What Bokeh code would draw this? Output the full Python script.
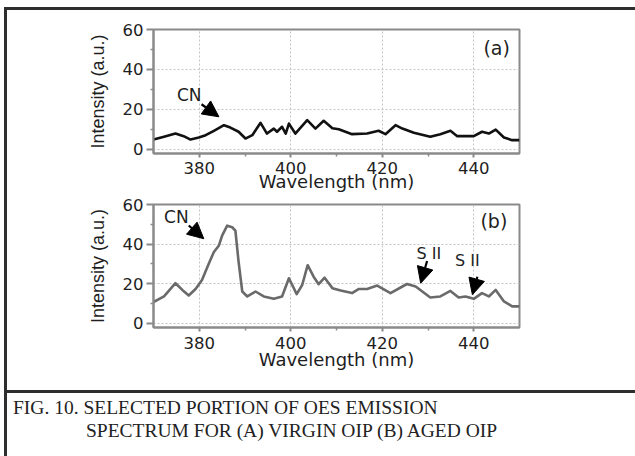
from bokeh.plotting import figure
from bokeh.layouts import column, row
from bokeh.models import Div, Arrow, NormalHead, Range1d, FixedTicker
from bokeh.core.properties import value
from bokeh.embed import file_html
from bokeh.resources import INLINE

# ---------------- data ----------------
wavelength_a = [370.0, 372.3, 374.8, 376.6, 378.1, 379.9, 381.4, 383.2, 385.4, 386.8,
                388.6, 390.1, 391.6, 393.4, 394.8, 396.3, 397.0, 398.1, 398.9, 399.6,
                401.0, 403.6, 405.4, 407.2, 409.1, 410.5, 413.4, 416.7, 419.2, 420.7,
                422.9, 424.4, 426.9, 430.5, 432.7, 434.9, 436.4, 440.0, 441.8, 443.3,
                444.8, 446.6, 448.4, 450.0]
intensity_a = [4.8, 6.2, 7.8, 6.5, 4.8, 5.8, 7.0, 9.2, 12.0, 10.8,
               8.7, 5.3, 7.0, 13.2, 7.8, 10.3, 8.7, 11.2, 7.8, 12.8,
               7.8, 14.5, 10.3, 14.2, 10.5, 10.0, 7.5, 7.8, 9.2, 7.5,
               12.0, 10.3, 8.2, 6.2, 7.5, 9.2, 6.5, 6.5, 8.7, 7.8,
               9.8, 5.8, 4.5, 4.5]

wavelength_b = [370.0, 372.3, 374.8, 376.3, 377.7, 379.2, 380.6, 382.1, 383.2, 384.3,
                385.0, 386.1, 387.2, 387.9, 388.6, 389.4, 390.5, 392.3, 394.1, 396.3,
                398.1, 399.6, 401.3, 402.5, 403.7, 405.0, 406.1, 407.4, 409.1, 410.9,
                413.4, 414.9, 416.7, 418.9, 421.8, 425.4, 427.3, 430.5, 432.7, 434.9,
                436.7, 438.2, 440.0, 441.8, 443.3, 444.8, 446.6, 448.4, 450.0]
intensity_b = [10.7, 13.5, 20.2, 16.8, 14.0, 17.3, 21.8, 30.2, 36.0, 39.3,
               44.3, 49.3, 48.5, 46.8, 31.0, 16.0, 13.5, 16.0, 13.5, 12.3,
               13.5, 22.7, 14.7, 19.3, 29.3, 23.5, 19.7, 23.0, 17.7, 16.5,
               15.2, 17.3, 17.3, 19.0, 15.2, 19.8, 18.5, 13.0, 13.5, 16.3,
               13.0, 13.5, 12.3, 15.2, 13.5, 16.8, 11.0, 8.5, 8.5]

x_ticks = [380, 400, 420, 440]
x_minor_ticks = [390, 410, 430]
y_ticks = [0, 20, 40, 60]
y_minor_ticks = [10, 30, 50]

x_title = "Wavelength (nm)"
y_title = "Intensity (a.u.)"
caption_line1 = "FIG. 10. SELECTED PORTION OF OES EMISSION"
caption_line2 = "SPECTRUM FOR (A) VIRGIN OIP (B) AGED OIP"

# panel tags and annotation texts (data coordinates)
tag_a = {"text": ["(a)"], "x": [445.0], "y": [50.5]}
tag_b = {"text": ["(b)"], "x": [444.4], "y": [51.7]}
notes_a = {"text": ["CN"], "x": [377.8], "y": [27.0]}
notes_b = {"text": ["CN", "S II", "S II"], "x": [375.0, 430.2, 438.6], "y": [53.5, 35.2, 31.9]}
arrows_a = [(380.5, 22.5, 384.3, 16.2)]
arrows_b = [(377.7, 49.4, 381.0, 42.7), (429.8, 31.4, 428.4, 20.2), (440.8, 23.5, 439.7, 14.4)]

SANS = "DejaVu Sans"
TXT = "#1e1e1e"
AX = "#8a8a8a"


def panel(wl, inten, color, top, frame_h, label_standoff, title_standoff, tag, notes, arrows):
    p = figure(frame_width=366, frame_height=frame_h,
               x_range=Range1d(370, 450), y_range=Range1d(-2.2, 60),
               output_backend="svg", toolbar_location=None,
               min_border_left=146, min_border_right=116,
               min_border_top=top, min_border_bottom=0,
               background_fill_color="white", border_fill_color="white")
    p.xaxis.ticker = FixedTicker(ticks=x_ticks, minor_ticks=x_minor_ticks)
    p.yaxis.ticker = FixedTicker(ticks=y_ticks, minor_ticks=y_minor_ticks)
    p.outline_line_color = AX
    p.outline_line_width = 2

    for ax in (p.xaxis, p.yaxis):
        ax.axis_line_color = AX
        ax.axis_line_width = 2
        ax.major_tick_line_color = AX
        ax.major_tick_line_width = 2
        ax.minor_tick_line_color = AX
        ax.minor_tick_line_width = 1.5
        ax.major_tick_in = 0
        ax.minor_tick_in = 0
        ax.major_label_text_font = SANS
        ax.major_label_text_font_size = "16.5px"
        ax.major_label_text_color = TXT
        ax.axis_label_text_font_style = "normal"
        ax.axis_label_text_color = TXT

    p.xaxis.major_tick_out = 4
    p.xaxis.minor_tick_out = 3
    p.xaxis.major_label_standoff = label_standoff
    p.xaxis.axis_label = x_title
    p.xaxis.axis_label_text_font = SANS
    p.xaxis.axis_label_text_font_size = "18px"
    p.xaxis.axis_label_standoff = title_standoff

    p.yaxis.major_tick_out = 7
    p.yaxis.minor_tick_out = 3
    p.yaxis.major_label_standoff = 3
    p.yaxis.axis_label = y_title
    p.yaxis.axis_label_text_font = "Liberation Sans"
    p.yaxis.axis_label_text_font_size = "18px"
    p.yaxis.axis_label_standoff = 12

    p.xgrid.grid_line_color = "#c4c4c4"
    p.ygrid.grid_line_color = "#c4c4c4"
    p.xgrid.grid_line_dash = "2 2"
    p.ygrid.grid_line_dash = "2 2"
    p.xgrid.grid_line_width = 1
    p.ygrid.grid_line_width = 1

    p.line(wl, inten, line_color=color, line_width=2.6, line_join="round")

    p.text(x=tag["x"], y=tag["y"], text=tag["text"], text_font=value(SANS),
           text_font_size="19px", text_color=TXT, text_align="center", text_baseline="middle")
    sizes = ["17px" if t == "CN" else "16px" for t in notes["text"]]
    p.text(x=notes["x"], y=notes["y"], text=notes["text"], text_font=value(SANS),
           text_font_size=sizes, text_color=TXT, text_align="center", text_baseline="middle")
    for (xs, ys, xe, ye) in arrows:
        p.add_layout(Arrow(end=NormalHead(size=16, fill_color="black", line_color="black", line_width=1),
                           x_start=xs, y_start=ys, x_end=xe, y_end=ye,
                           line_color="black", line_width=2.2))
    return p


fig_a = panel(wavelength_a, intensity_a, "#111111", 19, 124, 4, -6, tag_a, notes_a, arrows_a)
fig_b = panel(wavelength_b, intensity_b, "#6a6a6a", 10, 123, 5, -3, tag_b, notes_b, arrows_b)

DARK = "#2e2e2e"
Z = (0, 0, 0, 0)
top_space = Div(text="", width=635, height=7, margin=Z)
top_bar = row(Div(text="", width=4, height=3, margin=Z),
              Div(text="", width=631, height=3, margin=Z, styles={"background-color": DARK}),
              spacing=0)
gap = Div(text="", width=628, height=18, margin=Z)
sep = Div(text="", width=628, height=3, margin=Z, styles={"background-color": DARK})
cap_html = ('<div style="font-family:\'Liberation Serif\',serif;font-size:19.5px;line-height:23px;'
            'color:#222;padding:3px 0 0 6px;white-space:nowrap;">'
            + caption_line1 + '<br><span style="padding-left:73px;">' + caption_line2 + '</span></div>')
caption = Div(text=cap_html, width=628, height=62, margin=Z)

content = column(fig_a, fig_b, gap, sep, caption, spacing=0)
main = row(Div(text="", width=4, height=446, margin=Z),
           Div(text="", width=3, height=446, margin=Z, styles={"background-color": DARK}),
           content, spacing=0)
layout = column(top_space, top_bar, main, spacing=0)

open("out.html", "w").write(file_html(layout, INLINE))
